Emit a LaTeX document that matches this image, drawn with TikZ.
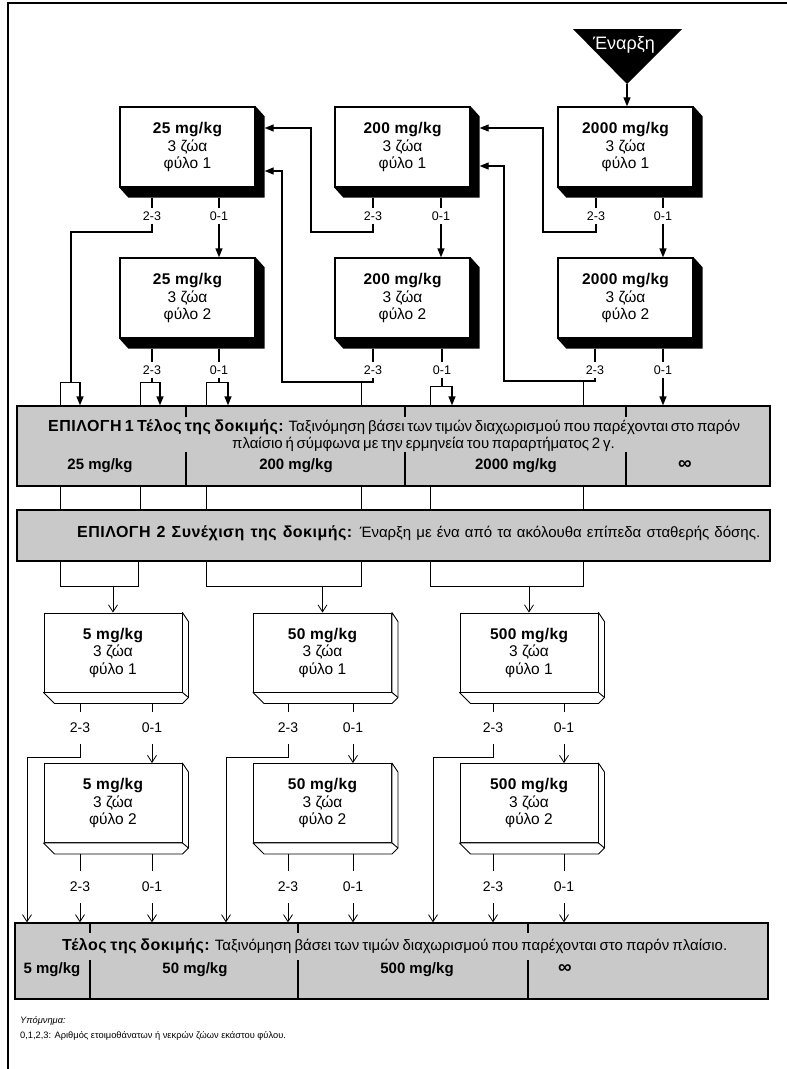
\documentclass[tikz,border=0pt]{standalone}
\usepackage{fontspec}
\setmainfont{Liberation Sans}
\usetikzlibrary{arrows.meta,calc}
\definecolor{panelgrey}{gray}{0.79}
\newcommand\boxtxt[2]{{\bfseries\addfontfeatures{LetterSpace=2}#1}\\3 ζώα\\φύλο #2}
\newcommand\bhead[1]{{\fontsize{16}{16}\selectfont\bfseries\addfontfeatures{LetterSpace=3}#1}}
\begin{document}
\begin{tikzpicture}[x=1pt,y=-1pt,
  topbox/.style={draw,line width=1.3pt,fill=white,minimum width=135pt,minimum height=80pt,inner sep=0pt,align=center,font=\fontsize{15.5}{17.5}\selectfont},
  lowbox/.style={draw,line width=0.9pt,fill=white,minimum width=138pt,minimum height=79pt,inner sep=0pt,align=center,font=\fontsize{15.5}{17.5}\selectfont},
  toplab/.style={font=\fontsize{12.5}{12.5}\selectfont,inner xsep=1pt,inner ysep=3pt},
  lowlab/.style={font=\fontsize{14}{14}\selectfont,inner xsep=1pt,inner ysep=11pt},
  lnk/.style={line width=1.3pt},
  conn/.style={line width=1.3pt,-{Triangle[length=9pt,width=7pt]}},
  fine/.style={line width=0.8pt},
  varr/.style={line width=0.8pt,-{Straight Barb[length=7pt,width=9pt]}},
  panel/.style={draw,line width=1.3pt,fill=panelgrey,inner sep=0pt,minimum width=753pt},
  ptext/.style={font=\fontsize{15}{15}\selectfont,inner sep=0pt,anchor=base west},
  dose/.style={font=\fontsize{15}{15}\selectfont\bfseries,inner sep=0pt,anchor=base},
  inf/.style={font=\fontsize{19}{19}\selectfont\bfseries,inner sep=0pt,anchor=base},
]
\useasboundingbox (0,0) rectangle (787,1069);
% frame
\draw[line width=1.3pt] (787,3) -- (8,3) -- (8,1069);

% start marker
\fill (573,29) -- (682,29) -- (627,84) -- cycle;
\coordinate (tip) at (627,84);
\node[text=white,font=\fontsize{18}{18}\selectfont,inner sep=0pt] (start) at (624,45) {Έναρξη};

% level coordinates
\coordinate (yUp) at (0,128);
\coordinate (yLo25) at (0,171);
\coordinate (yLo200) at (0,166);
\coordinate (yBr) at (0,382);
\coordinate (yBr2) at (0,386);
\coordinate (yOb) at (0,586);

% grey panels
\node[panel,minimum height=80pt] (opt1) at (393.5,446) {};
\node[panel,minimum height=51pt] (opt2) at (393.5,535.5) {};
\node[panel,minimum height=76pt] (fin) at (391.5,961) {};

% panel texts
\node[ptext] (o1a) at (48,431) {\makebox[692pt][s]{\bhead{ΕΠΙΛΟΓΗ 1 Τέλος της δοκιμής:} Ταξινόμηση βάσει των τιμών διαχωρισμού που παρέχονται στο παρόν}};
\node[ptext] (o1b) at (232,448) {\makebox[365pt][s]{πλαίσιο ή σύμφωνα με την ερμηνεία του παραρτήματος 2 γ.}};
\node[dose] (o1d1) at (100,469) {25 mg/kg};
\node[dose] (o1d2) at (296,469) {200 mg/kg};
\node[dose] (o1d3) at (516,469) {2000 mg/kg};
\node[inf] (o1d4) at (685,469) {∞};
\foreach \x in {186,405,626}{
  \draw[lnk] (\x,0 |- opt1.north) -- (\x,417);
  \draw[lnk] (\x,452) -- (\x,0 |- opt1.south);
}
\node[ptext] (o2a) at (77,537) {\makebox[683pt][s]{\bhead{ΕΠΙΛΟΓΗ 2 Συνέχιση της δοκιμής:} Έναρξη με ένα από τα ακόλουθα επίπεδα σταθερής δόσης.}};
\node[ptext] (fa) at (62,950) {\makebox[665pt][s]{\bhead{Τέλος της δοκιμής:} Ταξινόμηση βάσει των τιμών διαχωρισμού που παρέχονται στο παρόν πλαίσιο.}};
\node[dose] (fd1) at (52,973) {5 mg/kg};
\node[dose] (fd2) at (195,973) {50 mg/kg};
\node[dose] (fd3) at (417,973) {500 mg/kg};
\node[inf] (fd4) at (565,973) {∞};
\foreach \x in {90,298,528}{
  \draw[lnk] (\x,0 |- fin.north) -- (\x,933);
  \draw[lnk] (\x,960) -- (\x,0 |- fin.south);
}

% upper dose boxes with solid black depth
\node[topbox] (b25a) at (187.5,147) {\boxtxt{25 mg/kg}{1}};
\node[topbox] (b200a) at (402.5,147) {\boxtxt{200 mg/kg}{1}};
\node[topbox] (b2000a) at (625.5,147) {\boxtxt{2000 mg/kg}{1}};
\node[topbox] (b25b) at (187.5,298) {\boxtxt{25 mg/kg}{2}};
\node[topbox] (b200b) at (402.5,298) {\boxtxt{200 mg/kg}{2}};
\node[topbox] (b2000b) at (625.5,298) {\boxtxt{2000 mg/kg}{2}};
\foreach \b in {b25a,b200a,b2000a,b25b,b200b,b2000b}{
  \fill (\b.north east) -- ($(\b.north east)+(9,10)$) -- ($(\b.south east)+(9,10)$)
    -- ($(\b.south west)+(9,10)$) -- (\b.south west) -- (\b.south east) -- cycle;
  \coordinate (\b-sb) at ($(\b.south)+(0,10)$);
  \coordinate (\b-r) at ($(\b.east)+(9,0)$);
}

% outcome labels, upper part
\foreach \n/\x/\y/\t in {l25a23/152/216/2-3,l25a01/219/216/0-1,l200a23/373/216/2-3,l200a01/441/216/0-1,
  l2000a23/596/216/2-3,l2000a01/663/216/0-1,l25b23/152/370/2-3,l25b01/219/370/0-1,
  l200b23/373/370/2-3,l200b01/442/370/0-1,l2000b23/595/370/2-3,l2000b01/663/370/0-1}
  \node[toplab] (\n) at (\x,\y) {\t};
\foreach \n/\b in {l25a23/b25a,l25a01/b25a,l200a23/b200a,l200a01/b200a,l2000a23/b2000a,l2000a01/b2000a,
  l25b23/b25b,l25b01/b25b,l200b23/b200b,l200b01/b200b,l2000b23/b2000b,l2000b01/b2000b}
  \draw[lnk] (\n.north |- \b-sb) -- (\n.north);

% upper connectors
\draw[conn] (tip) -- (tip |- b2000a.north);
\draw[conn] (l25a01.south) -- (l25a01.south |- b25b.north);
\draw[conn] (l200a01.south) -- (l200a01.south |- b200b.north);
\draw[conn] (l2000a01.south) -- (l2000a01.south |- b2000b.north);
\draw[lnk] (l25a23.south) |- (71,232) -- (71,382);
\draw[conn] (l200a23.south) |- (311,232) |- (b25a-r |- yUp);
\draw[conn] (l2000a23.south) |- (543,232) |- (b200a-r |- yUp);

\draw[lnk] (l25b23.south) -- (l25b23.south |- yBr);
\draw[lnk] (l25b01.south) -- (l25b01.south |- yBr);
\draw[lnk] (l200b01.south) -- (l200b01.south |- yBr2);
\foreach \xl/\xr/\yy in {60/80/382,140/160/382,206/228/382,430/452/386}{
  \draw[fine] (\xr,\yy) -- (\xl,\yy) -- (\xl,0 |- opt1.north);
  \draw[conn] (\xr,\yy) -- (\xr,0 |- opt1.north);
}
\draw[conn] (l200b23.south) |- (282,382) |- (b25a-r |- yLo25);
\draw[fine] (361,382) -- (361,0 |- opt1.north);
\draw[conn] (l2000b23.south) |- (504,381) |- (b200a-r |- yLo200);
\draw[fine] (583,381) -- (583,0 |- opt1.north);
\draw[conn] (l2000b01.south) -- (l2000b01.south |- opt1.north);

% lines from option 1 to option 2
\foreach \x in {60,140,206,361,430,583}
  \draw[fine] (\x,0 |- opt1.south) -- (\x,0 |- opt2.north);

% lower dose boxes with outlined depth
\node[lowbox] (b5a) at (113,652.5) {\boxtxt{5 mg/kg}{1}};
\node[lowbox] (b50a) at (322.5,652.5) {\boxtxt{50 mg/kg}{1}};
\node[lowbox] (b500a) at (529,652.5) {\boxtxt{500 mg/kg}{1}};
\node[lowbox] (b5b) at (113,803) {\boxtxt{5 mg/kg}{2}};
\node[lowbox] (b50b) at (322.5,803) {\boxtxt{50 mg/kg}{2}};
\node[lowbox] (b500b) at (529,803) {\boxtxt{500 mg/kg}{2}};
\foreach \b in {b5a,b50a,b500a,b5b,b50b,b500b}{
  \draw[line width=0.9pt,fill=white,line join=round] (\b.north east) -- ($(\b.north east)+(6,9)$)
    -- ($(\b.south east)+(6,5)$) -- ($(\b.south east)+(0,11)$) -- ($(\b.south west)+(11,11)$)
    -- (\b.south west) -- (\b.south east) -- cycle;
  \draw[line width=0.9pt] (\b.south east) -- ($(\b.south east)+(6,5)$);
  \coordinate (\b-db) at ($(\b.south)+(0,11)$);
}

% option 2 to lower boxes
\foreach \xl/\xr/\b in {60/138/b5a,206/361/b50a,430/583/b500a}{
  \draw[fine] (\xl,0 |- opt2.south) |- (\xr,586) -- (\xr,0 |- opt2.south);
  \draw[varr] (\b.north |- yOb) -- (\b.north);
}

% outcome labels, lower part
\foreach \n/\x/\y/\t in {l5a23/80/728/2-3,l5a01/152/728/0-1,l50a23/288/728/2-3,l50a01/353/728/0-1,
  l500a23/493/728/2-3,l500a01/564/728/0-1,l5b23/80/887/2-3,l5b01/152/887/0-1,
  l50b23/288/887/2-3,l50b01/353/887/0-1,l500b23/493/887/2-3,l500b01/564/887/0-1}
  \node[lowlab] (\n) at (\x,\y) {\t};
\foreach \n/\b in {l5a23/b5a,l5a01/b5a,l50a23/b50a,l50a01/b50a,l500a23/b500a,l500a01/b500a,
  l5b23/b5b,l5b01/b5b,l50b23/b50b,l50b01/b50b,l500b23/b500b,l500b01/b500b}
  \draw[fine] (\n.north |- \b-db) -- (\n.north);

% lower connectors
\draw[varr] (l5a01.south) -- (l5a01.south |- b5b.north);
\draw[varr] (l50a01.south) -- (l50a01.south |- b50b.north);
\draw[varr] (l500a01.south) -- (l500a01.south |- b500b.north);
\draw[varr] (l5a23.south) |- (27,757) -- (27,0 |- fin.north);
\draw[varr] (l50a23.south) |- (226,757) -- (226,0 |- fin.north);
\draw[varr] (l500a23.south) |- (433,757) -- (433,0 |- fin.north);
\foreach \n in {l5b23,l5b01,l50b23,l50b01,l500b23,l500b01}
  \draw[varr] (\n.south) -- (\n.south |- fin.north);

% legend
\node[anchor=base west,inner sep=0pt,font=\fontsize{9.3}{9.3}\selectfont\itshape] (leg1) at (20,1023) {Υπόμνημα:};
\node[anchor=base west,inner sep=0pt,font=\fontsize{9.3}{9.3}\selectfont] (leg2) at (20,1038) {0,1,2,3: Αριθμός ετοιμοθάνατων ή νεκρών ζώων εκάστου φύλου.};
\end{tikzpicture}
\end{document}
